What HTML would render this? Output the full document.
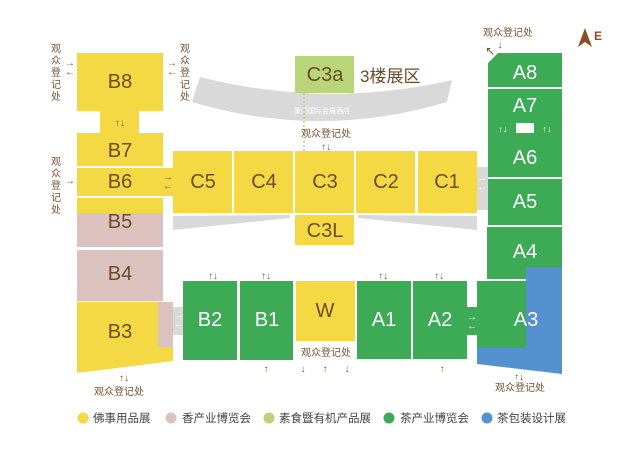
<!DOCTYPE html>
<html><head><meta charset="utf-8"><style>
html,body{margin:0;padding:0;background:#fff;width:640px;height:473px;overflow:hidden}
svg{display:block}
text{font-family:"Liberation Sans","Noto Sans CJK SC",sans-serif}
.L{font-size:20px;text-anchor:middle;dominant-baseline:central}
.y{fill:#6e4a26}.w{fill:#fff}
.s{font-size:10px;fill:#7a5230;text-anchor:middle}
.a{font-size:10px;fill:#7a5230;font-weight:bold;text-anchor:middle}
.g{font-size:11.5px;fill:#444}
</style></head><body>
<svg width="640" height="473" viewBox="0 0 640 473">
<path d="M200,77 Q326,109 452,80 L447,102 Q320,140 192,102 Z" fill="#d9d9d9"/>
<text x="322" y="113" font-size="7" fill="#fff" text-anchor="middle">厦门国际会展酒店</text>
<polygon points="173,216 290,215 290,218 173,230" fill="#d9d9d9"/>
<polygon points="358,215 477,216 477,230 358,218" fill="#d9d9d9"/>
<rect x="477" y="167" width="12" height="43" fill="#d9d9d9"/>
<rect x="173" y="307" width="11" height="28" fill="#d9d9d9"/>
<rect x="467" y="307" width="11" height="28" fill="#3daa55"/>
<line x1="304" y1="93" x2="304" y2="151" stroke="#b8d57a" stroke-width="1.5" stroke-dasharray="2,2"/>
<rect x="77" y="53" width="86" height="58" fill="#f5d944"/>
<rect x="100" y="111" width="39" height="22" fill="#f5d944"/>
<rect x="77" y="133" width="86" height="33" fill="#f5d944"/>
<rect x="77" y="168" width="96" height="28" fill="#f5d944"/>
<rect x="77" y="198" width="86" height="15" fill="#f5d944"/>
<rect x="77" y="213" width="86" height="34" fill="#dcc2bf"/>
<rect x="77" y="250" width="86" height="51" fill="#dcc2bf"/>
<polygon points="77,302 173,302 173,361 77,373" fill="#f5d944"/>
<rect x="158" y="302" width="15" height="45" fill="#dcc2bf"/>
<rect x="173" y="151" width="59" height="62" fill="#f5d944"/>
<rect x="234" y="151" width="59" height="62" fill="#f5d944"/>
<rect x="295" y="151" width="59" height="62" fill="#f5d944"/>
<rect x="356" y="151" width="59" height="62" fill="#f5d944"/>
<rect x="418" y="151" width="59" height="62" fill="#f5d944"/>
<rect x="295" y="215" width="59" height="30" fill="#f5d944"/>
<rect x="295" y="56" width="59" height="37" fill="#b8d57a"/>
<rect x="183" y="281" width="54" height="79" fill="#3daa55"/>
<rect x="240" y="281" width="53" height="79" fill="#3daa55"/>
<rect x="296" y="281" width="59" height="60" fill="#f5d944"/>
<rect x="357" y="281" width="54" height="78" fill="#3daa55"/>
<rect x="413" y="281" width="54" height="78" fill="#3daa55"/>
<polygon points="498,53 562,53 562,87 488,87 488,63" fill="#3daa55"/>
<rect x="488" y="89" width="74" height="88" fill="#3daa55"/>
<rect x="488" y="179" width="74" height="46" fill="#3daa55"/>
<rect x="487" y="227" width="75" height="52" fill="#3daa55"/>
<polygon points="526,267 562,267 562,374 477,364 477,348 526,348" fill="#5591cf"/>
<rect x="477" y="281" width="49" height="67" fill="#3daa55"/>
<rect x="516" y="123" width="18" height="10" fill="#fff"/>
<g class="L y">
<text x="120" y="82">B8</text><text x="120" y="151">B7</text><text x="120" y="182">B6</text>
<text x="120" y="222">B5</text><text x="120" y="274">B4</text><text x="120" y="332">B3</text>
<text x="203" y="182">C5</text><text x="264" y="182">C4</text><text x="325" y="182">C3</text>
<text x="386" y="182">C2</text><text x="447" y="182">C1</text><text x="325" y="231">C3L</text>
<text x="325" y="75">C3a</text><text x="325" y="311">W</text>
</g>
<text x="360" y="82" font-size="17" fill="#6e4a26">3楼展区</text>
<g class="L w">
<text x="210" y="320">B2</text><text x="267" y="320">B1</text><text x="384" y="320">A1</text>
<text x="440" y="320">A2</text><text x="526" y="320">A3</text><text x="525" y="252">A4</text>
<text x="525" y="202">A5</text><text x="525" y="158">A6</text><text x="525" y="106">A7</text><text x="525" y="73">A8</text>
</g>
<g class="s">
<text x="56" y="52">观</text><text x="56" y="64">众</text><text x="56" y="76">登</text><text x="56" y="88">记</text><text x="56" y="100">处</text>
<text x="185" y="52">观</text><text x="185" y="64">众</text><text x="185" y="76">登</text><text x="185" y="88">记</text><text x="185" y="100">处</text>
<text x="56" y="165">观</text><text x="56" y="177">众</text><text x="56" y="189">登</text><text x="56" y="201">记</text><text x="56" y="213">处</text>
<text x="326" y="137">观众登记处</text>
<text x="508" y="36">观众登记处</text>
<text x="326" y="356">观众登记处</text>
<text x="119" y="395">观众登记处</text>
<text x="520" y="391">观众登记处</text>
</g>
<g class="a">
<text x="70" y="66">→</text><text x="70" y="75">←</text>
<text x="172" y="66">→</text><text x="172" y="75">←</text>
<text x="70" y="184">→</text>
<text x="168" y="180">→</text><text x="168" y="189">←</text>
<text x="120" y="126">↑↓</text>
<text x="326" y="150">↑↓</text>
<text x="500" y="48">↓</text><text x="490" y="55">↖</text>
<text x="213" y="279">↑↓</text><text x="266" y="279">↑↓</text><text x="383" y="279">↑↓</text><text x="439" y="279">↑↓</text>
<text x="266" y="372">↑</text><text x="303" y="372">↓</text><text x="325" y="372">↑</text><text x="347" y="372">↓</text><text x="442" y="372">↑</text>
<text x="124" y="381">↑↓</text><text x="519" y="380">↑↓</text>
<text x="472" y="320" fill="#fff">→</text><text x="472" y="329" fill="#fff">←</text>
<text x="179" y="318" fill="#fff">→</text><text x="179" y="327" fill="#fff">←</text>
<text x="482" y="181" fill="#fff">→</text><text x="482" y="190" fill="#fff">←</text>
</g>
<g fill="#fff" font-size="9" font-weight="bold" text-anchor="middle"><text x="503" y="132">↑↓</text><text x="547" y="132">↑↓</text></g>
<polygon points="585,28 578,47 585,42 592,47" fill="#8a4f22"/>
<text x="594" y="40" font-size="12" font-weight="bold" fill="#8a4f22">E</text>
<circle cx="83" cy="418" r="5.5" fill="#f5d944"/><text class="g" x="93" y="422">佛事用品展</text>
<circle cx="171" cy="418" r="5.5" fill="#dcc2bf"/><text class="g" x="182" y="422">香产业博览会</text>
<circle cx="269" cy="418" r="5.5" fill="#b8d57a"/><text class="g" x="279" y="422">素食暨有机产品展</text>
<circle cx="389" cy="418" r="5.5" fill="#3daa55"/><text class="g" x="400" y="422">茶产业博览会</text>
<circle cx="487" cy="418" r="5.5" fill="#5591cf"/><text class="g" x="497" y="422">茶包装设计展</text>
</svg>
</body></html>
